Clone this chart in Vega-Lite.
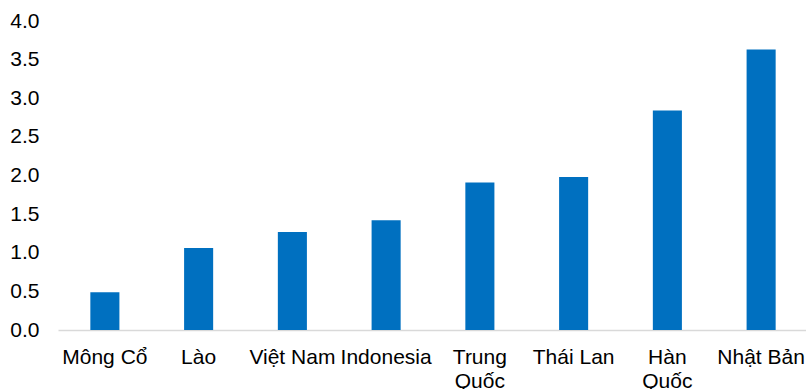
{
  "$schema": "https://vega.github.io/schema/vega-lite/v6.json",
  "width": 750,
  "height": 309,
  "autosize": {"type": "none"},
  "padding": {"left": 58, "top": 21, "right": 0, "bottom": 59},
  "background": "white",
  "data": {
    "values": [
      {"country": "Mông Cổ", "value": 0.49},
      {"country": "Lào", "value": 1.06},
      {"country": "Việt Nam", "value": 1.27},
      {"country": "Indonesia", "value": 1.42},
      {"country": "Trung Quốc", "value": 1.91},
      {"country": "Thái Lan", "value": 1.98},
      {"country": "Hàn Quốc", "value": 2.84},
      {"country": "Nhật Bản", "value": 3.63}
    ]
  },
  "config": {
    "view": {"stroke": null},
    "axis": {
      "labelFont": "Liberation Sans",
      "labelFontSize": 21,
      "labelColor": "#000000",
      "ticks": false,
      "grid": false,
      "title": null
    }
  },
  "mark": {"type": "bar", "color": "#0070C0"},
  "encoding": {
    "x": {
      "field": "country",
      "type": "nominal",
      "sort": null,
      "scale": {"paddingInner": 0.69, "paddingOuter": 0.345},
      "axis": {
        "labelAngle": 0,
        "labelPadding": 16,
        "labelLineHeight": 24,
        "labelOverlap": false,
        "labelLimit": 200,
        "labelBound": false,
        "domainColor": "#D9D9D9",
        "domainWidth": 1.3,
        "labelExpr": "datum.value == 'Trung Quốc' || datum.value == 'Hàn Quốc' ? split(datum.value, ' ') : datum.value"
      }
    },
    "y": {
      "field": "value",
      "type": "quantitative",
      "scale": {"domain": [0, 4], "nice": false},
      "axis": {
        "values": [0, 0.5, 1, 1.5, 2, 2.5, 3, 3.5, 4],
        "format": ".1f",
        "domain": false,
        "labelPadding": 19,
        "labelBaseline": "middle"
      }
    }
  }
}
